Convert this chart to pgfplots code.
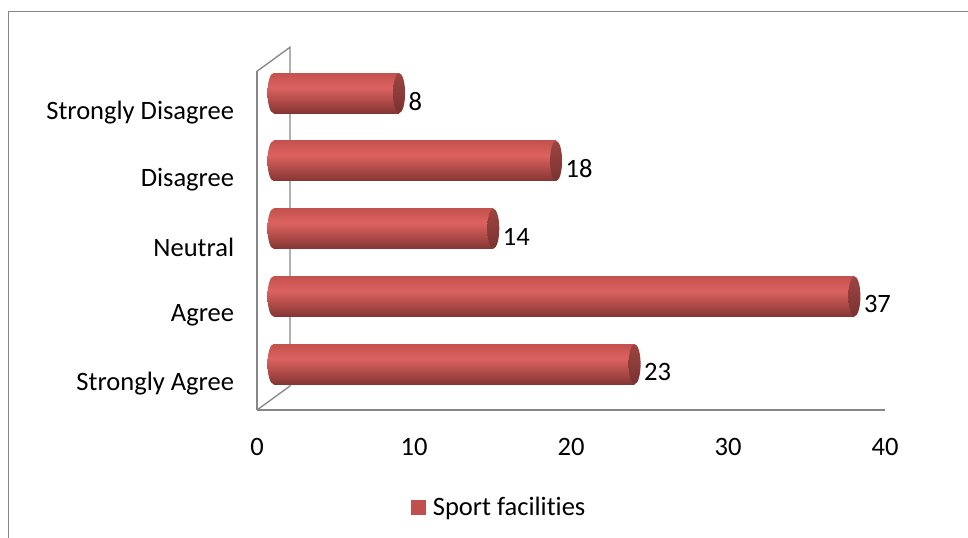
\documentclass[border=0pt]{standalone}
\usepackage{pgfplots}
\pgfplotsset{compat=1.18}
\usepackage{fontspec}
\setmainfont{Carlito}[Ligatures={NoCommon}]

\definecolor{bartop}{HTML}{C4524F}
\definecolor{barmid}{HTML}{DC625F}
\definecolor{barbot}{HTML}{853634}
\definecolor{captop}{HTML}{9C4542}
\definecolor{capbot}{HTML}{7A3230}
\definecolor{wallgray}{HTML}{878787}
\definecolor{legred}{HTML}{C0504D}

% cylinder body and end-cap shadings
\pgfdeclareverticalshading{cylbody}{100bp}{color(0bp)=(barbot); color(25bp)=(barbot); color(57bp)=(barmid); color(75bp)=(bartop); color(100bp)=(bartop)}
\pgfdeclareverticalshading{cylcap}{100bp}{color(0bp)=(capbot); color(25bp)=(capbot); color(75bp)=(captop); color(100bp)=(captop)}

\pgfdeclareplotmark{capR}{%
  \pgfpathellipse{\pgfpointorigin}{\pgfqpoint{4.5pt}{0pt}}{\pgfqpoint{0pt}{15pt}}%
  \pgfshadepath{cylcap}{0}\pgfusepath{discard}}
\pgfdeclareplotmark{capL}{%
  \pgfpathellipse{\pgfpointorigin}{\pgfqpoint{4.5pt}{0pt}}{\pgfqpoint{0pt}{15pt}}%
  \pgfshadepath{cylbody}{0}\pgfusepath{discard}}

\newcommand\chartfont{\fontsize{19.9pt}{24pt}\selectfont}

\pgfplotsset{
  /pgf/number format/assume math mode=true,
  common/.style={scale only axis, width=471pt, height=254.06pt,
    xmin=0, xmax=40, ymin=-0.5, ymax=4.5, clip=false},
  cyl/.style={xbar, bar width=30pt, bar shift=0pt, draw=none, shade, shading=cylbody,
    mark=capR, point meta=x, nodes near coords, forget plot,
    nodes near coords style={font=\chartfont, text=black, anchor=west,
      inner sep=0pt, xshift=7pt, yshift=-6pt}},
}

\begin{document}
\begin{tikzpicture}
\useasboundingbox (0,0) rectangle (726pt,403.5pt);
\draw[wallgray, line width=1.2pt] (6.375pt,-10pt) -- (6.375pt,394.875pt) -- (740pt,394.875pt);

% front plane: floor, walls, tick labels
\begin{axis}[common, at={(192.75pt,96pt)}, anchor=south west,
  axis x line*=bottom, axis y line*=left,
  axis line style={wallgray, line width=1pt},
  major tick length=0pt,
  xtick={0,10,20,30,40},
  ytick={0,1,2,3,4},
  yticklabels={Strongly Agree, Agree, Neutral, Disagree, Strongly Disagree},
  tick label style={font=\chartfont, text=black},
  xticklabel style={anchor=north, inner sep=0pt, yshift=-21pt},
  yticklabel style={anchor=east, inner sep=0pt, xshift=-17pt, yshift=-5.25pt},
]
\draw[wallgray, line width=1pt] (axis cs:0,4.5) -- ++(24.75pt,18pt)
  -- ([shift={(24.75pt,18pt)}]axis cs:0,-0.5) -- (axis cs:0,-0.5);
\end{axis}

% bars, set half a depth step back
\begin{axis}[common, at={(205.125pt,105pt)}, anchor=south west, hide axis,
  legend style={draw=none, fill=none, font=\chartfont, inner sep=0pt,
    at={(0.219,-0.322)}, anchor=west, legend cell align=left},
]
\addplot[only marks, mark=capL, forget plot] coordinates {(0,0) (0,1) (0,2) (0,3) (0,4)};
\addplot[cyl] coordinates {(23,0)};
\addplot[cyl] coordinates {(37,1)};
\addplot[cyl] coordinates {(14,2)};
\addplot[cyl] coordinates {(18,3)};
\addplot[cyl] coordinates {(8,4)};
\addlegendimage{legend image code/.code={\fill[legred] (0.75pt,-5.25pt) rectangle (11.25pt,5.25pt); \path (14.5pt,0pt);}}
\addlegendentry{Sport facilities}
\end{axis}
\end{tikzpicture}
\end{document}
